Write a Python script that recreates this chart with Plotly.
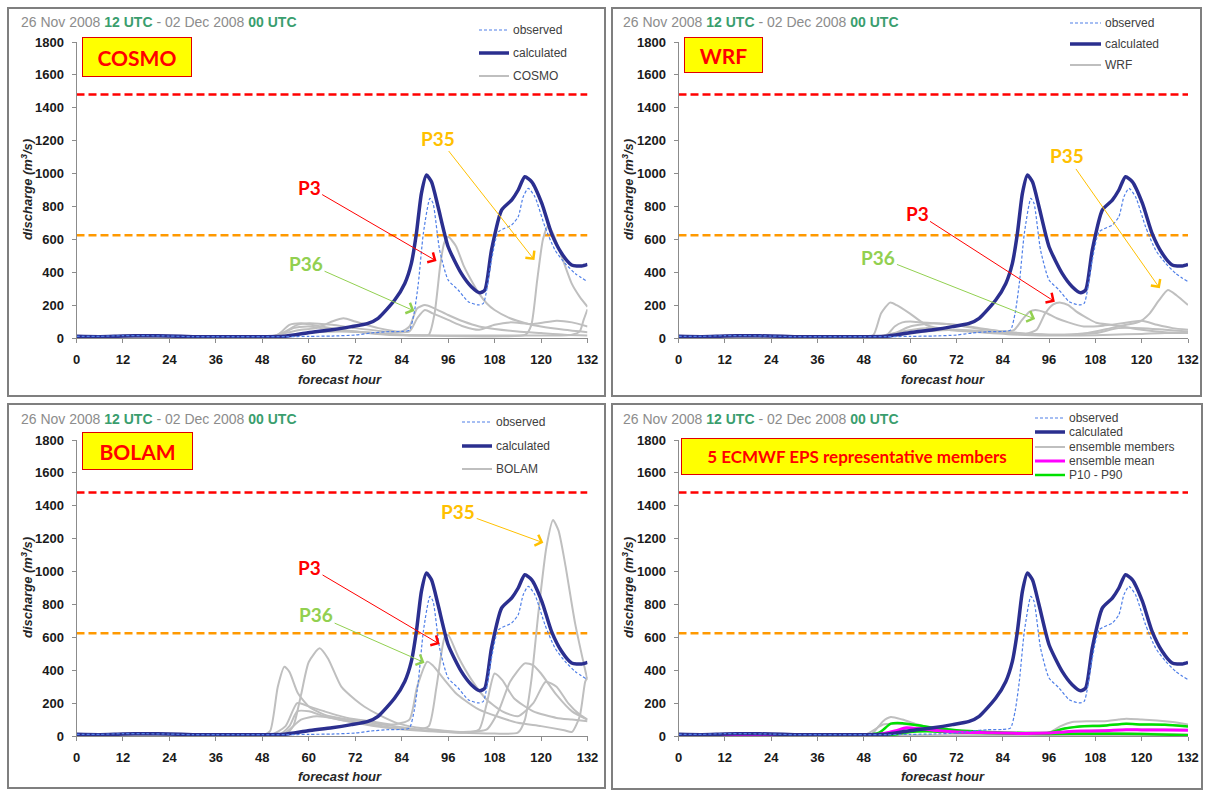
import plotly.graph_objects as go

W, H = 1208, 791

# ---------------- data ----------------
HOUR_TICKS = list(range(0, 133, 12))
Q_TICKS = list(range(0, 1801, 200))
X_SPAN = [0, 132]
THRESH_HIGH = [1480, 1480]
THRESH_LOW = [625, 625]

obs_h = [0, 6, 12, 18, 24, 30, 36, 42, 48, 54, 60, 66, 72, 76, 80, 83.9, 86, 87.2, 88.3, 89.6, 91.3, 92.1,
         93.8, 96, 98.6, 101.2, 103.8, 105.1, 107.2, 109, 112.4, 114.1, 115.4, 116.7, 118.4, 121, 123.6,
         126.2, 128.8, 132]
obs_v = [10, 10, 14, 14, 12, 8, 8, 8, 8, 8, 10, 12, 18, 30, 38, 40, 48, 150, 332, 636, 849, 819,
         535, 353, 292, 221, 201, 211, 474, 646, 687, 738, 859, 910, 859, 677, 535,
         454, 393, 342]

calc_h = [0, 6, 12, 18, 24, 30, 36, 42, 48, 53.7, 59.8, 66, 71, 75.3, 77.9, 82.2, 84.8, 86.5, 87.8, 89.1,
          90.4, 91.7, 93.4, 96, 99.4, 102, 104.2, 105.5, 107.2, 109.8, 112.4, 114.1, 115.8, 117.6, 120.2,
          122.7, 125.3, 127.9, 130.5, 132]
calc_v = [10, 8, 12, 14, 12, 8, 8, 8, 8, 10, 32, 50, 69, 89, 120, 231, 332, 454, 636, 880,
          991, 950, 798, 555, 393, 312, 275, 292, 535, 778, 839, 900, 981, 950, 819,
          636, 515, 444, 438, 448]

# COSMO members
cosmo_p3_h = [0, 48, 52, 56, 60, 66, 72, 80, 88, 91, 92.5, 94, 95, 96, 98, 100, 102, 104, 106, 108, 112, 116, 120, 126, 132]
cosmo_p3_v = [5, 5, 10, 60, 70, 50, 40, 25, 15, 20, 150, 450, 580, 615, 560, 440, 350, 270, 210, 170, 120, 90, 70, 50, 35]
cosmo_p35_h = [0, 48, 52, 55, 58, 62, 66, 72, 80, 90, 100, 110, 116, 117.5, 119, 120.5, 121.8, 123, 125.3, 127.9, 130, 132]
cosmo_p35_v = [5, 5, 20, 80, 90, 75, 60, 40, 20, 15, 10, 10, 20, 80, 350, 600, 681, 640, 498, 332, 250, 190]
cosmo_p36_h = [0, 50, 54, 58, 62, 66, 69, 72, 78, 84, 86, 88, 90, 92, 96, 100, 104, 108, 114, 120, 126, 132]
cosmo_p36_v = [5, 5, 30, 50, 60, 100, 120, 100, 60, 40, 70, 180, 200, 185, 140, 100, 70, 55, 40, 30, 20, 15]
cosmo_m4_h = [0, 50, 54, 57, 60, 66, 72, 80, 86, 88, 90, 92, 96, 100, 104, 108, 112, 118, 124, 128, 132]
cosmo_m4_v = [5, 5, 40, 80, 90, 80, 60, 40, 40, 120, 170, 150, 110, 70, 50, 80, 95, 85, 105, 95, 70]
cosmo_m5_h = [0, 12, 18, 24, 50, 56, 62, 68, 74, 84, 96, 108, 120, 128, 130, 131, 132]
cosmo_m5_v = [3, 10, 12, 8, 3, 20, 35, 40, 35, 20, 15, 15, 15, 20, 40, 110, 175]

# WRF members
wrf_m1_h = [0, 48, 50.5, 52.5, 54.8, 56.5, 59.9, 64.2, 70.2, 78, 88, 96, 104, 112, 120, 126, 132]
wrf_m1_v = [5, 5, 18, 150, 215, 200, 150, 79, 49, 35, 20, 15, 15, 20, 25, 30, 30]
wrf_m2_h = [0, 50, 54, 56, 58, 60, 63, 66, 70, 74, 80, 86, 92, 100, 108, 114, 120, 126, 132]
wrf_m2_v = [5, 5, 20, 70, 95, 100, 95, 90, 85, 70, 50, 35, 25, 20, 30, 60, 60, 50, 40]
wrf_p36_h = [0, 50, 56, 60, 66, 72, 78, 84, 87, 89, 91, 92.4, 95, 98, 101, 105, 110, 115, 120, 124, 128, 132]
wrf_p36_v = [5, 5, 30, 70, 90, 80, 60, 40, 50, 110, 160, 170, 155, 120, 95, 70, 75, 90, 105, 80, 60, 50]
wrf_p3_h = [0, 52, 58, 64, 70, 76, 84, 90, 92.8, 95, 97.1, 99, 101, 103.1, 106, 108.2, 112, 116, 120, 126, 132]
wrf_p3_v = [5, 5, 40, 60, 50, 40, 30, 25, 50, 150, 205, 215, 200, 160, 120, 93, 80, 65, 50, 35, 30]
wrf_p35_h = [0, 52, 58, 64, 72, 80, 90, 100, 106, 112, 116, 119.5, 122.1, 124.5, 126.8, 129, 132]
wrf_p35_v = [5, 5, 20, 40, 50, 40, 25, 20, 30, 60, 80, 100, 150, 230, 292, 260, 200]

# BOLAM members
bolam_m1_h = [0, 48, 50, 52, 53.7, 55, 57.2, 60, 64, 70, 76, 82, 88, 92, 96, 100, 104, 106, 108, 110, 113, 118, 124, 128, 132]
bolam_m1_v = [5, 5, 30, 300, 421, 390, 260, 180, 130, 100, 80, 60, 40, 30, 25, 20, 40, 200, 380, 340, 230, 150, 110, 100, 90]
bolam_m2_h = [0, 50, 54, 56, 58, 60, 62.8, 65, 68.4, 72, 74.4, 78, 83, 90, 100, 106, 109, 112, 115.8, 118, 120, 124, 128, 132]
bolam_m2_v = [5, 5, 10, 60, 250, 450, 533, 470, 300, 220, 178, 130, 77, 45, 25, 40, 150, 330, 442, 430, 380, 250, 150, 100]
bolam_p36_h = [0, 50, 54, 57, 60, 64, 70, 76, 82, 86, 88, 90.6, 92, 95.1, 98, 100.2, 104, 108.9, 114, 120, 126, 128, 130, 131.4, 132]
bolam_p36_v = [5, 5, 60, 200, 180, 150, 110, 90, 70, 100, 300, 452, 430, 340, 260, 219, 160, 117, 80, 60, 35, 25, 120, 330, 360]
bolam_p3_h = [0, 52, 55, 57, 60, 64, 70, 76, 82, 88, 91, 93, 95.1, 96, 98.6, 102.1, 106, 110, 114, 118, 121.2, 124, 127, 130, 132]
bolam_p3_v = [5, 5, 60, 150, 150, 120, 90, 70, 50, 40, 60, 300, 600, 615, 482, 340, 220, 150, 120, 200, 330, 300, 200, 130, 100]
bolam_p35_h = [0, 50, 54, 58, 62, 66, 72, 80, 90, 100, 108, 114, 115.8, 117.5, 119.3, 121.4, 123.1, 124.5, 126.2, 128.8, 131.4, 132]
bolam_p35_v = [5, 5, 20, 100, 120, 110, 80, 50, 30, 20, 15, 20, 97, 340, 746, 1151, 1313, 1250, 1050, 685, 401, 340]

# ECMWF EPS representative members
eps_m1_h = [0, 48, 50, 53, 55, 58, 62, 66, 72, 80, 90, 96, 99, 102, 106, 110, 114, 116, 120, 124, 128, 132]
eps_m1_v = [5, 5, 10, 90, 115, 100, 70, 45, 30, 20, 15, 20, 60, 85, 90, 90, 100, 105, 100, 95, 85, 70]
eps_m2_h = [0, 48, 53, 56, 60, 66, 72, 80, 90, 96, 100, 104, 110, 116, 120, 126, 132]
eps_m2_v = [5, 5, 70, 75, 70, 50, 35, 25, 20, 20, 45, 60, 65, 75, 70, 70, 60]
eps_m3_h = [0, 50, 56, 60, 64, 72, 84, 96, 102, 110, 118, 126, 132]
eps_m3_v = [5, 5, 30, 50, 45, 30, 20, 20, 30, 35, 40, 40, 38]
eps_m4_h = [0, 50, 57, 60, 66, 72, 84, 96, 108, 120, 132]
eps_m4_v = [5, 5, 10, 30, 35, 25, 15, 15, 20, 15, 10]
eps_m5_h = [0, 24, 48, 72, 96, 120, 132]
eps_m5_v = [3, 5, 3, 5, 5, 5, 4]
eps_mean_h = [0, 48, 52, 56, 59, 62, 66, 72, 80, 90, 96, 100, 104, 110, 116, 120, 126, 132]
eps_mean_v = [5, 5, 10, 30, 50, 45, 35, 25, 20, 15, 18, 25, 30, 32, 38, 37, 36, 35]
eps_p90_h = [0, 48, 52, 55, 58, 62, 66, 72, 80, 90, 96, 100, 104, 110, 116, 120, 126, 132]
eps_p90_v = [5, 5, 20, 75, 78, 65, 50, 35, 25, 18, 20, 45, 58, 62, 75, 70, 68, 58]
eps_p10_h = [0, 50, 56, 60, 66, 72, 84, 96, 108, 120, 132]
eps_p10_v = [4, 4, 8, 25, 28, 22, 15, 12, 14, 12, 5]

# ---------------- styling ----------------
FONT = "Liberation Sans, Arial, sans-serif"
LABEL_FONT = "Lato, Carlito, sans-serif"
GRAY = "#bfbfbf"
NAVY = "#2b2f8f"
OBS = "#4f7fe8"
C_P3, C_P35, C_P36 = "#ff0000", "#ffc000", "#92d050"
GREEN_T = "#3a9e6e"

STY_OBS = dict(color=OBS, width=1.2, dash="3px,2px")
STY_CALC = dict(color=NAVY, width=3.5)
STY_MEM = dict(color=GRAY, width=2)
STY_MEAN = dict(color="#ff00ff", width=3)
STY_PCT = dict(color="#00e000", width=2.5)

fig = go.Figure()

panels = [
    dict(ax="x", ay="y", name="COSMO",
         members=[(cosmo_p3_h, cosmo_p3_v), (cosmo_p35_h, cosmo_p35_v), (cosmo_p36_h, cosmo_p36_v),
                  (cosmo_m4_h, cosmo_m4_v), (cosmo_m5_h, cosmo_m5_v)]),
    dict(ax="x2", ay="y2", name="WRF",
         members=[(wrf_m1_h, wrf_m1_v), (wrf_m2_h, wrf_m2_v), (wrf_p36_h, wrf_p36_v),
                  (wrf_p3_h, wrf_p3_v), (wrf_p35_h, wrf_p35_v)]),
    dict(ax="x3", ay="y3", name="BOLAM",
         members=[(bolam_m1_h, bolam_m1_v), (bolam_m2_h, bolam_m2_v), (bolam_p36_h, bolam_p36_v),
                  (bolam_p3_h, bolam_p3_v), (bolam_p35_h, bolam_p35_v)]),
    dict(ax="x4", ay="y4", name="ensemble members",
         members=[(eps_m1_h, eps_m1_v), (eps_m2_h, eps_m2_v), (eps_m3_h, eps_m3_v),
                  (eps_m4_h, eps_m4_v), (eps_m5_h, eps_m5_v)]),
]

SPL = dict(shape="spline", smoothing=0.6)

for p in panels:
    xa, ya = p["ax"], p["ay"]
    fig.add_trace(go.Scatter(x=X_SPAN, y=THRESH_HIGH, mode="lines", xaxis=xa, yaxis=ya,
                             line=dict(color="#ff0000", width=2.5, dash="8px,4px"),
                             showlegend=False, hoverinfo="skip"))
    fig.add_trace(go.Scatter(x=X_SPAN, y=THRESH_LOW, mode="lines", xaxis=xa, yaxis=ya,
                             line=dict(color="#ff9900", width=2.5, dash="8px,4px"),
                             showlegend=False, hoverinfo="skip"))
    for (hh, vv) in p["members"]:
        fig.add_trace(go.Scatter(x=hh, y=vv, mode="lines", xaxis=xa, yaxis=ya, name=p["name"],
                                 line=dict(**STY_MEM, **SPL), showlegend=False))
    if xa == "x4":
        fig.add_trace(go.Scatter(x=eps_p10_h, y=eps_p10_v, mode="lines", xaxis=xa, yaxis=ya,
                                 name="P10 - P90", line=dict(**STY_PCT, **SPL), showlegend=False))
        fig.add_trace(go.Scatter(x=eps_p90_h, y=eps_p90_v, mode="lines", xaxis=xa, yaxis=ya,
                                 name="P10 - P90", line=dict(**STY_PCT, **SPL), showlegend=False))
        fig.add_trace(go.Scatter(x=eps_mean_h, y=eps_mean_v, mode="lines", xaxis=xa, yaxis=ya,
                                 name="ensemble mean", line=dict(**STY_MEAN, **SPL), showlegend=False))
    fig.add_trace(go.Scatter(x=calc_h, y=calc_v, mode="lines", xaxis=xa, yaxis=ya, name="calculated",
                             line=dict(**STY_CALC, **SPL), showlegend=False))
    fig.add_trace(go.Scatter(x=obs_h, y=obs_v, mode="lines", xaxis=xa, yaxis=ya, name="observed",
                             line=dict(**STY_OBS, **SPL), showlegend=False))

# ---------------- axes ----------------
XL = [76.5 / W, 587.5 / W]
XR = [678.5 / W, 1188 / W]
YT = [1 - 338 / H, 1 - 42 / H]
YB = [1 - 736 / H, 1 - 440 / H]

axis_common = dict(showline=True, linecolor="#8c8c8c", linewidth=1, ticks="outside", ticklen=4,
                   tickcolor="#8c8c8c", showgrid=False, zeroline=False, fixedrange=True, automargin=False,
                   tickfont=dict(family=FONT, size=13, color="#1a1a1a", weight="bold"))
layout_axes = {}
for i, (xd, yd) in enumerate([(XL, YT), (XR, YT), (XL, YB), (XR, YB)], start=1):
    sx = "" if i == 1 else str(i)
    layout_axes["xaxis" + sx] = dict(domain=xd, anchor="y" + sx, range=[0, 132], tickvals=HOUR_TICKS,
                                     ticklabelstandoff=5, **axis_common)
    layout_axes["yaxis" + sx] = dict(domain=yd, anchor="x" + sx, range=[0, 1800], tickvals=Q_TICKS,
                                     ticklabelstandoff=5, **axis_common)

fig.update_layout(
    width=W, height=H, margin=dict(l=0, r=0, t=0, b=0, autoexpand=False),
    paper_bgcolor="white", plot_bgcolor="white", showlegend=False,
    **layout_axes,
)

# ---------------- frames, titles, labels, legends ----------------
def px(x):
    return x / W


def py(y):
    return 1 - y / H


shapes = []
for (x0, x1, y0, y1) in [(8, 605, 8, 396), (612, 1201, 8, 396), (8, 605, 404, 788), (612, 1202, 404, 789)]:
    shapes.append(dict(type="rect", xref="paper", yref="paper", x0=px(x0), x1=px(x1),
                       y0=py(y1), y1=py(y0), line=dict(color="#7f7f7f", width=2)))

ann = []
title_txt = ("26 Nov 2008 <b><span style='color:%s'>12 UTC</span></b> - 02 Dec 2008 "
             "<b><span style='color:%s'>00 UTC</span></b>") % (GREEN_T, GREEN_T)
for (tx, ty) in [(19, 22), (621, 22), (19, 419), (621, 419)]:
    ann.append(dict(x=px(tx), y=py(ty), xref="paper", yref="paper", xanchor="left", yanchor="middle",
                    text=title_txt, showarrow=False, font=dict(family=FONT, size=14, color="#8c8c8c")))

for (tx, ty) in [(27, 190), (628, 190), (27, 588), (628, 588)]:
    ann.append(dict(x=px(tx), y=py(ty), xref="paper", yref="paper", xanchor="center", yanchor="middle",
                    text="discharge (m<sup>3</sup>/s)", textangle=-90, showarrow=False,
                    font=dict(family=FONT, size=13, color="#262626", style="italic", weight="bold")))
for (tx, ty) in [(340, 379), (943, 379), (340, 776), (943, 776)]:
    ann.append(dict(x=px(tx), y=py(ty), xref="paper", yref="paper", xanchor="center", yanchor="middle",
                    text="forecast hour", showarrow=False,
                    font=dict(family=FONT, size=13, color="#262626", style="italic", weight="bold")))

for (txt, cx, cy, bw, bh, fs) in [("COSMO", 137, 57, 106, 36, 21), ("WRF", 724, 55, 75, 32, 21),
                                  ("BOLAM", 137.5, 451, 107, 34, 21),
                                  ("5 ECMWF EPS representative members", 857, 456.5, 348, 33, 17)]:
    ann.append(dict(x=px(cx), y=py(cy), xref="paper", yref="paper", xanchor="center", yanchor="middle",
                    text="<b>%s</b>" % txt, showarrow=False, width=bw, height=bh, align="center",
                    valign="middle", bgcolor="#ffff00", bordercolor="#e00000", borderwidth=1, borderpad=1,
                    font=dict(family=LABEL_FONT, size=fs, color="#ff0000")))

# legends (sample line + label) per panel
legend_sets = [
    (479, 509, [(30, "observed", STY_OBS), (53, "calculated", STY_CALC), (76, "COSMO", STY_MEM)]),
    (1070, 1101, [(23, "observed", STY_OBS), (44, "calculated", STY_CALC), (65, "WRF", STY_MEM)]),
    (462, 492, [(422, "observed", STY_OBS), (446, "calculated", STY_CALC), (469, "BOLAM", STY_MEM)]),
    (1035, 1065, [(418, "observed", STY_OBS), (432, "calculated", STY_CALC),
                  (447, "ensemble members", STY_MEM), (461, "ensemble mean", STY_MEAN),
                  (475, "P10 - P90", STY_PCT)]),
]
for (sx0, sx1, items) in legend_sets:
    for (yy, label, sty) in items:
        shapes.append(dict(type="line", xref="paper", yref="paper", x0=px(sx0), x1=px(sx1),
                           y0=py(yy), y1=py(yy), line=dict(**sty)))
        ann.append(dict(x=px(sx1 + 2), y=py(yy), xref="paper", yref="paper", xanchor="left",
                        yanchor="middle", text=label, showarrow=False,
                        font=dict(family=FONT, size=12, color="#404040")))

arrows = [
    ("x", "y", "P3", C_P3, 60.1, 918, 93, 468),
    ("x", "y", "P35", C_P35, 93.5, 1216, 118.3, 474),
    ("x", "y", "P36", C_P36, 59.3, 456, 87.3, 164),
    ("x2", "y2", "P3", C_P3, 61.8, 760, 97.5, 221),
    ("x2", "y2", "P35", C_P35, 100.6, 1107, 124.7, 302),
    ("x2", "y2", "P36", C_P36, 51.8, 492, 92.4, 115),
    ("x3", "y3", "P3", C_P3, 60.2, 1026, 93.8, 559),
    ("x3", "y3", "P35", C_P35, 98.6, 1364, 120.6, 1175),
    ("x3", "y3", "P36", C_P36, 61.9, 736, 89.9, 446),
]
for (xr, yr, txt, col, tx, ty, hx, hy) in arrows:
    ann.append(dict(xref=xr, yref=yr, axref=xr, ayref=yr, x=hx, y=hy, ax=tx, ay=ty,
                    text="<b>%s</b>" % txt, showarrow=True, arrowhead=4, arrowsize=2.2, arrowwidth=1,
                    arrowcolor=col, font=dict(family=LABEL_FONT, size=19, color=col)))

fig.update_layout(shapes=shapes, annotations=ann)

fig.write_html("out.html", config={"displayModeBar": False},
               post_script="document.body.style.margin='0px';document.body.style.overflow='hidden';")
